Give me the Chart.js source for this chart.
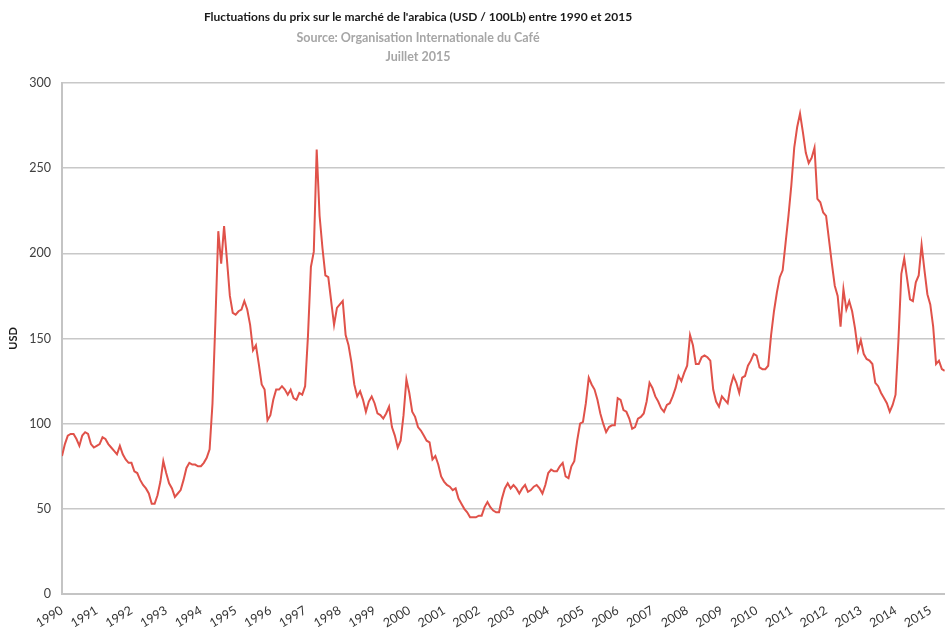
<!DOCTYPE html>
<html>
<head>
<meta charset="utf-8">
<script src="https://cdn.jsdelivr.net/npm/chart.js@4.4.1/dist/chart.umd.min.js"></script>
<style>
    html, body { margin: 0; padding: 0; background: #fff; overflow: hidden; }
    #wrap { position: relative; width: 947px; height: 632px; }
    .titre { position: absolute; left: 0; width: 836px; text-align: center; font-family: Lato, sans-serif; font-weight: bold; white-space: nowrap; }
    #t1 { top: 9px; font-size: 12px; color: #1a1a1a; }
    #t2 { top: 30px; font-size: 12.5px; color: #a6a6a6; }
    #t3 { top: 49px; font-size: 12.5px; color: #a6a6a6; }
    canvas { position: absolute; left: 0; top: 0; }
</style>
</head>
<body>
<div id="wrap">
    <canvas id="prixChart" width="947" height="632"></canvas>
    <div class="titre" id="t1">Fluctuations du prix sur le marché de l'arabica (USD / 100Lb) entre 1990 et 2015</div>
    <div class="titre" id="t2">Source: Organisation Internationale du Café</div>
    <div class="titre" id="t3">Juillet 2015</div>
</div>
<script>
// Données (prix mensuels, USD / 100Lb, janvier 1990 -> juin 2015)
const startYear = 1990;
const yearTicks = [1990, 1991, 1992, 1993, 1994, 1995, 1996, 1997, 1998, 1999, 2000, 2001, 2002,
    2003, 2004, 2005, 2006, 2007, 2008, 2009, 2010, 2011, 2012, 2013, 2014, 2015];
const prices = [
    81, 88, 93, 94, 94, 91, 87, 93, 95, 94, 88, 86,          // 1990
    87, 88, 92, 91, 88, 86, 84, 82, 87, 82, 79, 77,          // 1991
    77, 72, 71, 67, 64, 62, 59, 53, 53, 58, 66, 78,          // 1992
    71, 65, 62, 57, 59, 61, 67, 74, 77, 76, 76, 75,          // 1993
    75, 77, 80, 85, 112, 160, 213, 194, 216, 196, 175, 165,  // 1994
    164, 166, 167, 172, 167, 158, 143, 146, 135, 123, 120, 102, // 1995
    105, 114, 120, 120, 122, 120, 117, 120, 115, 114, 118, 117, // 1996
    122, 152, 192, 201, 261, 222, 203, 187, 186, 172, 158, 168, // 1997
    170, 172, 152, 146, 136, 123, 116, 119, 114, 107, 113, 116, // 1998
    112, 106, 105, 103, 106, 110, 98, 93, 86, 90, 105, 126,   // 1999
    118, 107, 104, 98, 96, 93, 90, 89, 79, 81, 76, 69,        // 2000
    66, 64, 63, 61, 62, 56, 53, 50, 48, 45, 45, 45,           // 2001
    46, 46, 51, 54, 51, 49, 48, 48, 56, 62, 65, 62,           // 2002
    64, 62, 59, 62, 64, 60, 61, 63, 64, 62, 59, 64,           // 2003
    71, 73, 72, 72, 75, 77, 69, 68, 75, 78, 90, 100,          // 2004
    101, 112, 127, 123, 120, 114, 106, 100, 95, 98, 99, 99,   // 2005
    115, 114, 108, 107, 103, 97, 98, 103, 104, 106, 113, 124, // 2006
    121, 116, 113, 109, 107, 111, 112, 116, 121, 128, 125, 130, // 2007
    134, 152, 146, 135, 135, 139, 140, 139, 137, 120, 113, 110, // 2008
    116, 114, 112, 122, 128, 124, 118, 127, 128, 134, 137, 141, // 2009
    140, 133, 132, 132, 134, 152, 166, 177, 186, 190, 206, 222, // 2010
    240, 262, 274, 282, 271, 259, 253, 256, 262, 232, 230, 224, // 2011
    222, 208, 194, 181, 175, 157, 179, 167, 172, 166, 156, 143, // 2012
    149, 141, 138, 137, 135, 124, 122, 118, 115, 112, 107, 111, // 2013
    117, 149, 188, 197, 185, 173, 172, 183, 187, 205, 190, 176, // 2014
    170, 157, 135, 137, 132, 131                               // 2015
];

const points = prices.map((p, i) => ({ x: startYear + i / 12, y: p }));

const ctx = document.getElementById('prixChart').getContext('2d');
new Chart(ctx, {
    type: 'line',
    data: {
        datasets: [{
            data: points,
            borderColor: '#e0524a',
            borderWidth: 2,
            pointRadius: 0,
            tension: 0,
            fill: false
        }]
    },
    options: {
        responsive: false,
        animation: false,
        layout: { padding: { top: 83, bottom: 0, left: 7, right: 0 } },
        plugins: { legend: { display: false }, tooltip: { enabled: false } },
        scales: {
            x: {
                type: 'linear',
                min: startYear,
                max: startYear + (prices.length - 1) / 12,
                afterBuildTicks: (scale) => { scale.ticks = yearTicks.map(v => ({ value: v })); },
                afterFit: (scale) => { scale.height = 38; },
                ticks: {
                    minRotation: 31,
                    maxRotation: 31,
                    padding: 9,
                    autoSkip: false,
                    color: '#333333',
                    font: { family: 'Lato', size: 12.5 },
                    callback: (v) => String(v)
                },
                grid: { display: false, drawTicks: false },
                border: { display: true, color: '#c4c4c4', width: 2 }
            },
            y: {
                min: 0,
                max: 300,
                afterFit: (scale) => { scale.width = 55; },
                ticks: {
                    stepSize: 50,
                    padding: 11,
                    color: '#404040',
                    font: { family: 'Lato', size: 12.5 }
                },
                grid: { color: '#c8c8c8', lineWidth: 1.5, drawTicks: false },
                border: { display: true, color: '#c4c4c4', width: 2 },
                title: {
                    display: true,
                    text: 'USD',
                    color: '#1a1a1a',
                    font: { family: 'Lato', size: 11, weight: 'bold' },
                    padding: { top: 0, bottom: 2 }
                }
            }
        }
    }
});
</script>
</body>
</html>
